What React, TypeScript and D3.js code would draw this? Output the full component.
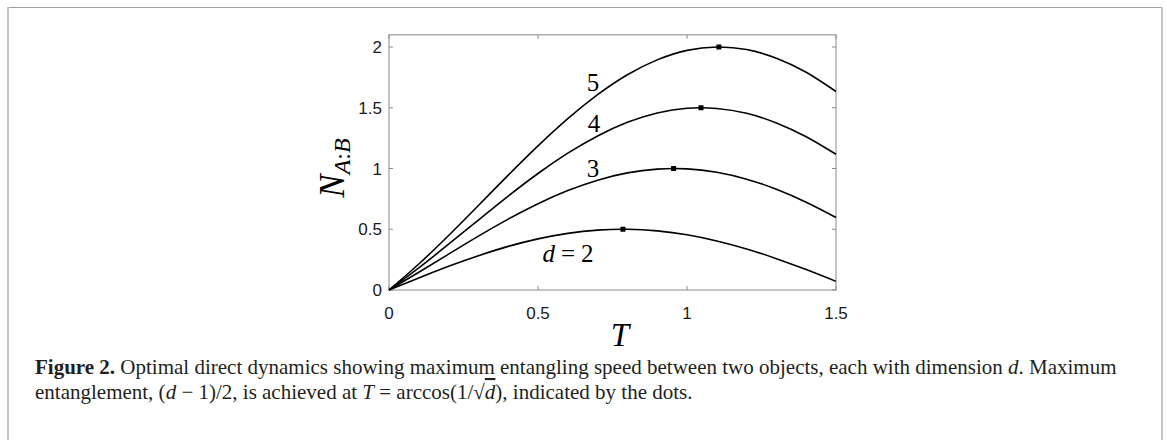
import React from "react";
import * as d3 from "d3";

const tValues = [0, 0.1, 0.2, 0.3, 0.4, 0.5, 0.6, 0.7, 0.8, 0.9, 1.0, 1.1, 1.2, 1.3, 1.4, 1.5];
const d2 = [0, 0.099, 0.195, 0.282, 0.359, 0.421, 0.466, 0.493, 0.5, 0.487, 0.455, 0.404, 0.338, 0.258, 0.168, 0.071];
const d3v = [0, 0.146, 0.295, 0.443, 0.583, 0.71, 0.818, 0.904, 0.964, 0.995, 0.997, 0.969, 0.912, 0.829, 0.722, 0.597];
const d4 = [0, 0.182, 0.377, 0.576, 0.773, 0.959, 1.126, 1.268, 1.38, 1.457, 1.496, 1.494, 1.454, 1.375, 1.261, 1.117];
const d5 = [0, 0.214, 0.449, 0.696, 0.945, 1.186, 1.41, 1.608, 1.772, 1.894, 1.972, 2.0, 1.979, 1.908, 1.792, 1.634];
const series = [d2, d3v, d4, d5];

// maxima (dots)
const peakT = [0.785, 0.955, 1.047, 1.107];
const peakN = [0.5, 1, 1.5, 2];

const xTicks = [0, 0.5, 1, 1.5];
const yTicks = [0, 0.5, 1, 1.5, 2];

const x = d3.scaleLinear().domain([0, 1.5]).range([389, 836]);
const y = d3.scaleLinear().domain([0, 2.1]).range([290, 34.85]);

const line = d3
  .line<number>()
  .x((_, i) => x(tValues[i]))
  .y((v) => y(v))
  .curve(d3.curveNatural);

const axisColor = "#8a8a8a";
const serif = "'Liberation Serif', 'DejaVu Serif', serif";
const sans = "'Liberation Sans', Arial, sans-serif";

export default function App() {
  const [x0, x1] = x.range();
  const [y0, y1] = y.range();
  return (
    <svg width={1167} height={440} style={{ position: "absolute", left: 0, top: 0, background: "#fff" }}>
      {/* figure frame */}
      <line x1={7} y1={7.5} x2={1162} y2={7.5} stroke="#a0a0a0" strokeWidth={1} />
      <line x1={8} y1={7} x2={8} y2={440} stroke="#c4c4c4" strokeWidth={2} />
      <line x1={1162} y1={7} x2={1162} y2={440} stroke="#c4c4c4" strokeWidth={2} />

      {/* axes box */}
      <rect x={x0} y={y1} width={x1 - x0} height={y0 - y1} fill="none" stroke={axisColor} strokeWidth={1} />
      {xTicks.map((t) => (
        <g key={"x" + t}>
          <line x1={x(t)} x2={x(t)} y1={y0} y2={y0 - 4} stroke={axisColor} />
          <line x1={x(t)} x2={x(t)} y1={y1} y2={y1 + 4} stroke={axisColor} />
          <text x={x(t)} y={y0 + 29} textAnchor="middle" fontFamily={sans} fontSize={17} fill="#1a1a1a">
            {t}
          </text>
        </g>
      ))}
      {yTicks.map((t) => (
        <g key={"y" + t}>
          <line x1={x0} x2={x0 + 4} y1={y(t)} y2={y(t)} stroke={axisColor} />
          <line x1={x1} x2={x1 - 4} y1={y(t)} y2={y(t)} stroke={axisColor} />
          <text x={x0 - 7} y={y(t) + 6} textAnchor="end" fontFamily={sans} fontSize={17} fill="#1a1a1a">
            {t}
          </text>
        </g>
      ))}

      {/* curves */}
      {series.map((s, i) => (
        <path key={i} d={line(s) || ""} fill="none" stroke="#000" strokeWidth={1.6} />
      ))}
      {peakT.map((t, i) => (
        <rect key={"p" + i} x={x(t) - 2.5} y={y(peakN[i]) - 2.5} width={5} height={5} fill="#000" />
      ))}

      {/* curve labels */}
      <g fontFamily={serif} fontSize={25} fill="#000" textAnchor="middle">
        <text x={593} y={91}>5</text>
        <text x={594} y={132}>4</text>
        <text x={593} y={177}>3</text>
        <text x={568} y={262}>
          <tspan fontStyle="italic">d</tspan>
          <tspan dx={6}>=</tspan>
          <tspan dx={6}>2</tspan>
        </text>
      </g>

      {/* axis labels */}
      <text x={620} y={346} textAnchor="middle" fontFamily={serif} fontStyle="italic" fontSize={33}>
        T
      </text>
      <text transform="translate(344,168) rotate(-90)" textAnchor="middle" fontFamily={serif} fontStyle="italic" fontSize={35}>
        N
        <tspan fontSize={24} dy={6}>A</tspan>
        <tspan fontSize={24} fontStyle="normal">:</tspan>
        <tspan fontSize={24}>B</tspan>
      </text>

      {/* caption */}
      <g fontFamily={serif} fontSize={21} fill="#231f20">
        <text x={35} y={374}>
          <tspan fontWeight="bold">Figure 2.</tspan> Optimal direct dynamics showing maximum entangling speed between two
          objects, each with dimension <tspan fontStyle="italic">d</tspan>. Maximum
        </text>
        <text x={35} y={399}>
          entanglement, (<tspan fontStyle="italic">d</tspan> − 1)/2, is achieved at <tspan fontStyle="italic">T</tspan> =
          arccos(1/√<tspan fontStyle="italic" textDecoration="overline">d</tspan>), indicated by the dots.
        </text>
      </g>
    </svg>
  );
}
